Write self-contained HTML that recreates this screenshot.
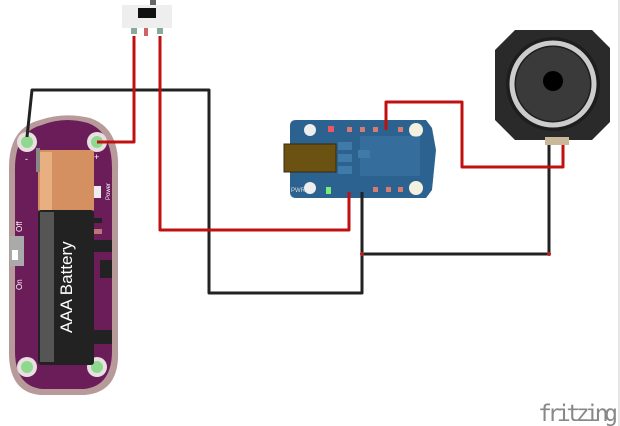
<!DOCTYPE html>
<html><head><style>html,body{margin:0;padding:0;background:#fff}svg{display:block}</style></head><body>
<svg width="620" height="426" viewBox="0 0 620 426" xmlns="http://www.w3.org/2000/svg" font-family="Liberation Sans, sans-serif">
<line x1="619" y1="0" x2="619" y2="426" stroke="#ccc" stroke-width="1"/>
<!-- battery holder -->
<path d="M40 120 Q64 112 90 118 Q120 128 118 170 L118 350 Q120 392 85 395 L40 395 Q8 392 9 350 L9 170 Q8 128 40 120Z" fill="#b89a9a"/>
<path d="M42 125 Q64 116 88 123 Q113 132 112 172 L112 348 Q113 386 84 389 L42 389 Q14 386 15 348 L15 172 Q14 132 42 125Z" fill="#6b1d5a"/>
<circle cx="27" cy="142" r="10" fill="#e8e0e0"/><circle cx="27" cy="142" r="6" fill="#8fd88f"/>
<circle cx="97" cy="142" r="10" fill="#e8e0e0"/><circle cx="97" cy="142" r="6" fill="#8fd88f"/>
<circle cx="27" cy="367" r="10" fill="#e8e0e0"/><circle cx="27" cy="367" r="6" fill="#8fd88f"/>
<circle cx="97" cy="367" r="10" fill="#e8e0e0"/><circle cx="97" cy="367" r="6" fill="#8fd88f"/>
<text x="25" y="162" fill="#fff" font-size="9">-</text><text x="94" y="160" fill="#fff" font-size="9">+</text>
<rect x="93" y="186" width="8" height="12" fill="#eee"/>
<text transform="translate(110,200) rotate(-90)" fill="#fff" font-size="6">Power</text>
<rect x="90" y="218" width="12" height="5" fill="#222"/><rect x="90" y="229" width="12" height="5" fill="#b77"/>
<rect x="90" y="240" width="22" height="12" fill="#222"/>
<rect x="100" y="260" width="12" height="18" fill="#222"/>
<rect x="90" y="330" width="22" height="14" fill="#222"/>
<rect x="10" y="236" width="14" height="30" fill="#aaa"/><rect x="12" y="250" width="6" height="10" fill="#fff"/>
<text transform="translate(22,290) rotate(-90)" fill="#fff" font-size="8">On</text>
<text transform="translate(22,232) rotate(-90)" fill="#fff" font-size="8">Off</text>
<!-- battery -->
<rect x="38" y="150" width="56" height="62" rx="3" fill="#d49060"/>
<rect x="38" y="210" width="56" height="155" rx="3" fill="#222"/>
<rect x="40" y="212" width="14" height="150" fill="#555"/>
<rect x="40" y="152" width="12" height="58" fill="#e8b080"/>
<rect x="36" y="148" width="4" height="24" fill="#888"/>
<text transform="translate(72,333) rotate(-90)" fill="#fff" font-size="17">AAA Battery</text>
<!-- switch -->
<rect x="150" y="0" width="6" height="9" fill="#666"/>
<rect x="122" y="5" width="50" height="23" fill="#eee"/>
<rect x="138" y="8" width="18" height="10" fill="#111"/>
<rect x="131" y="28" width="6" height="6" fill="#8a9"/><rect x="144" y="28" width="4" height="8" fill="#c66"/><rect x="157" y="28" width="6" height="6" fill="#8a9"/>
<!-- board -->
<path d="M296 120 L426 120 L432 128 L436 150 L432 190 L426 198 L296 198 Q290 198 290 192 L290 126 Q290 120 296 120Z" fill="#2b6290"/>
<rect x="284" y="144" width="52" height="28" fill="#6b5212" stroke="#3a2a08"/>
<circle cx="310" cy="130" r="6" fill="#eee"/><circle cx="310" cy="188" r="6" fill="#eee"/>
<circle cx="416" cy="130" r="7" fill="#f4f0e0"/><circle cx="416" cy="188" r="7" fill="#f4f0e0"/>
<rect x="328" y="126" width="6" height="6" fill="#e56"/>
<g fill="#d87a70"><rect x="347" y="127" width="5" height="5"/><rect x="360" y="127" width="5" height="5"/><rect x="373" y="127" width="5" height="5"/><rect x="398" y="127" width="5" height="5"/><rect x="373" y="187" width="5" height="5"/><rect x="386" y="187" width="5" height="5"/><rect x="398" y="187" width="5" height="5"/></g>
<rect x="326" y="187" width="5" height="7" fill="#7e7"/>
<g fill="#3f7aa8"><rect x="338" y="142" width="14" height="8"/><rect x="338" y="154" width="14" height="8"/><rect x="338" y="166" width="14" height="8"/><rect x="358" y="150" width="12" height="8"/><rect x="360" y="136" width="60" height="40" opacity=".5"/></g>
<text x="291" y="192" fill="#ddd" font-size="6">PWR</text>
<!-- wires -->
<g fill="none" stroke-width="3" stroke-linejoin="round">
<polyline points="27,137 32,90 209,90 209,293 362,293 362,192" stroke="#222"/>
<polyline points="362,254 549,254 549,145" stroke="#222"/>
<polyline points="97,142 134,142 134,36" stroke="#c01010"/>
<polyline points="160,36 160,230 349,230 349,192" stroke="#c01010"/>
<polyline points="563,145 563,167 462,167 462,102 386,102 386,130" stroke="#c01010"/>
</g>
<!-- speaker -->
<path d="M515 30 L592 30 L610 48 L610 122 L592 140 L515 140 L495 120 L495 50Z" fill="#2a2a2a"/>
<circle cx="553" cy="84" r="47" fill="#1e1e1e"/>
<circle cx="553" cy="84" r="41" fill="none" stroke="#ccc" stroke-width="5"/>
<circle cx="553" cy="84" r="37" fill="#3a3a3a"/>
<circle cx="553" cy="81" r="10" fill="#000"/>
<rect x="545" y="137" width="24" height="8" fill="#c9b89a"/>
<circle cx="362" cy="254" r="2" fill="#a22"/><circle cx="549" cy="254" r="2" fill="#a22"/>
<text x="538" y="421" fill="#888" font-size="23" font-family="DejaVu Sans Mono, monospace" textLength="80">fritzing</text>
</svg>
</body></html>
